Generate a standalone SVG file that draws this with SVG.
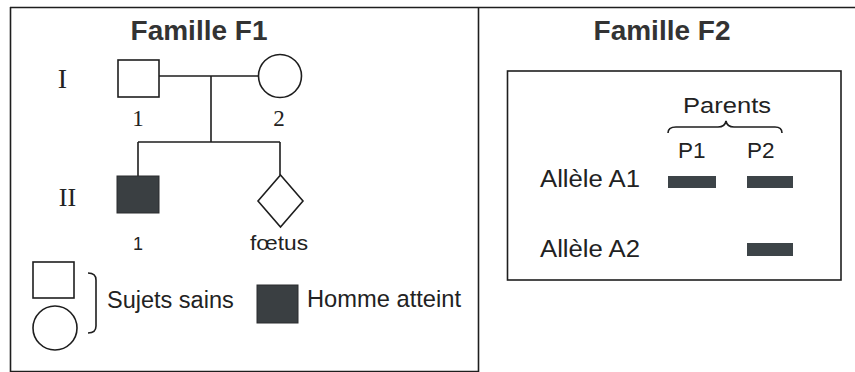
<svg xmlns="http://www.w3.org/2000/svg" width="855" height="372" viewBox="0 0 855 372">
<style>
.ln{fill:none;stroke:#1e1e1e;stroke-width:1.6}
.sym{fill:#fff;stroke:#1e1e1e;stroke-width:1.6}
.aff{fill:#3a3f42;stroke:#2a2d2f;stroke-width:1}
.bar{fill:#3d4448}
.title{font-family:"Liberation Sans",Arial,sans-serif;font-weight:bold;font-size:28px;fill:#333;text-anchor:middle}
.serif{font-family:"Liberation Serif","Times New Roman",serif;fill:#222}
.sans{font-family:"Liberation Sans",Arial,sans-serif;fill:#222}
</style>
<rect width="855" height="372" fill="#fff"/>
<g id="frame" class="ln" stroke-width="1.3">
<path d="M10,7.5 H855 M10.5,7 V372 M478.5,7 V372 M10,371.5 H478"/>
</g>
<text class="title" x="199" y="40">Famille F1</text>
<text class="title" x="662" y="40">Famille F2</text>
<g id="gen-labels">
<text class="serif" x="62.5" y="88" font-size="28" text-anchor="middle">I</text>
<text class="serif" x="67.5" y="206" font-size="26" text-anchor="middle">II</text>
</g>
<g id="connectors" class="ln">
<path d="M159,76 H259 M211,76 V142 M138,142 H280 M138,142 V176 M280,142 V175"/>
</g>
<g id="I-1">
<rect class="sym" x="118" y="60" width="41" height="37"/>
<text class="serif" x="138" y="126" font-size="23" text-anchor="middle">1</text>
</g>
<g id="I-2">
<circle class="sym" cx="280" cy="76" r="21.5"/>
<text class="serif" x="279" y="126" font-size="23" text-anchor="middle">2</text>
</g>
<g id="II-1">
<rect class="aff" x="117" y="176" width="42" height="37"/>
<text class="sans" x="138" y="250" font-size="18" text-anchor="middle">1</text>
</g>
<g id="foetus">
<polygon class="sym" points="280.5,175 303,201 280.5,227 258,201"/>
<text class="sans" x="250" y="250" font-size="20" textLength="58" lengthAdjust="spacingAndGlyphs">fœtus</text>
</g>
<g id="legend">
<rect class="sym" x="33" y="262" width="41" height="36"/>
<circle class="sym" cx="55" cy="328" r="22"/>
<path class="ln" d="M88,273 Q96,273 96,280 V326 Q96,333 88,333"/>
<text class="sans" x="107" y="308" font-size="23.5">Sujets sains</text>
<rect class="aff" x="257" y="285" width="41" height="38"/>
<text class="sans" x="307" y="307" font-size="23.7">Homme atteint</text>
</g>
<g id="F2-box">
<rect class="sym" x="507.5" y="71" width="333.5" height="209" stroke-width="1.4"/>
<text class="sans" x="683" y="113" font-size="22.5" textLength="88" lengthAdjust="spacingAndGlyphs">Parents</text>
<path class="ln" stroke-width="1.4" d="M668,133 Q668,127 676,127 H718 Q725,127 726,121 Q727,127 734,127 H775 Q782,127 782,133"/>
<text class="sans" x="678" y="158" font-size="22.5">P1</text>
<text class="sans" x="747" y="158" font-size="22.5">P2</text>
<text class="sans" x="540" y="187" font-size="23.5" textLength="100" lengthAdjust="spacingAndGlyphs">Allèle A1</text>
<text class="sans" x="540" y="257" font-size="23.5" textLength="100" lengthAdjust="spacingAndGlyphs">Allèle A2</text>
<rect class="bar" x="668" y="176" width="48" height="12"/>
<rect class="bar" x="747" y="176" width="46" height="12"/>
<rect class="bar" x="747" y="243" width="46" height="13"/>
</g>
</svg>
